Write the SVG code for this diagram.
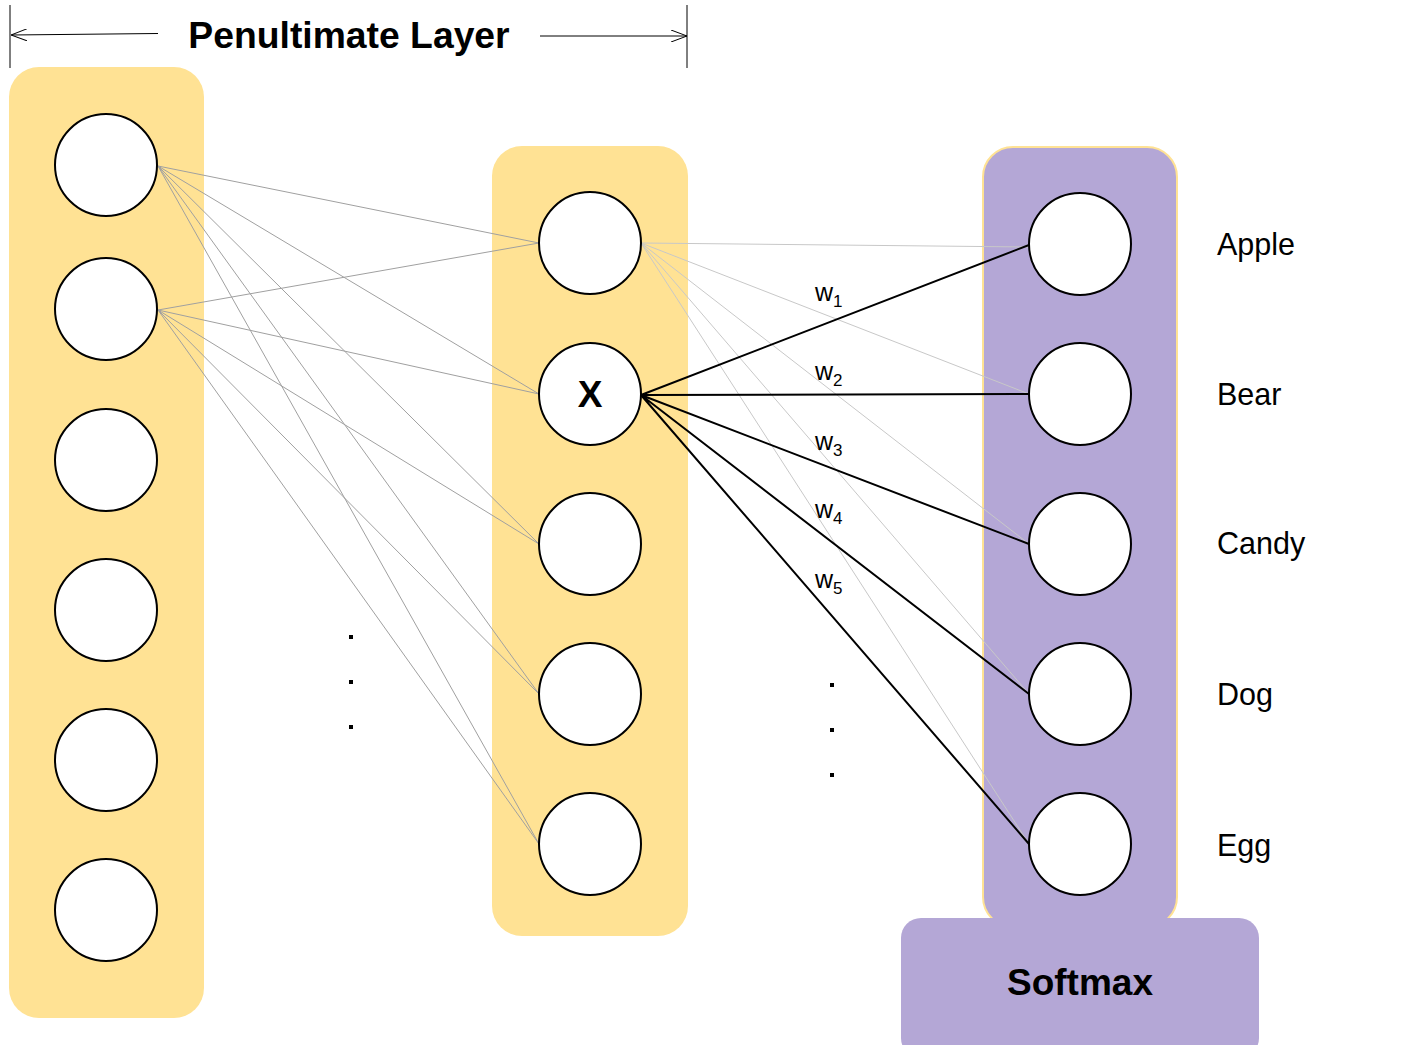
<svg xmlns="http://www.w3.org/2000/svg" width="1407" height="1045" viewBox="0 0 1407 1045">
<defs>
<style>
.col{fill:#FFE294;}
.pcol{fill:#B4A7D6;stroke:#FFE294;stroke-width:2;}
.node{fill:#FFFFFF;stroke:#000000;stroke-width:2;}
.g1{stroke:#A0A0A0;stroke-width:1;fill:none;}
.g2{stroke:#C8C8C8;stroke-width:1;fill:none;}
.bk{stroke:#000000;stroke-width:2;fill:none;}
.t{font-family:"Liberation Sans",Arial,sans-serif;fill:#000;}
.b{font-weight:bold;}
.lbl{font-size:30.5px;}
.w{font-size:25px;}
.sub{font-size:17px;}
.dot{fill:#000;}
</style>
<marker id="open" viewBox="0 0 16 12" refX="16" refY="6" markerWidth="16" markerHeight="12" orient="auto" markerUnits="userSpaceOnUse">
<path d="M0,0 L16,6 L0,12" fill="none" stroke="#000" stroke-width="1"/>
</marker>
</defs>
<rect width="1407" height="1045" fill="#FFFFFF"/>

<g id="title">
<line x1="10" y1="5" x2="10" y2="68" stroke="#000" stroke-width="1"/>
<line x1="687" y1="5" x2="687" y2="68" stroke="#000" stroke-width="1"/>
<line x1="158" y1="33.5" x2="11" y2="35" stroke="#000" stroke-width="1" marker-end="url(#open)"/>
<line x1="540" y1="36" x2="687" y2="36" stroke="#000" stroke-width="1" marker-end="url(#open)"/>
<text class="t b" x="349" y="48" font-size="37.3" text-anchor="middle">Penultimate Layer</text>
</g>

<g id="layer-penultimate"><rect class="col" x="9" y="67" width="195" height="951" rx="30"/></g>
<g id="layer-middle"><rect class="col" x="492" y="146" width="196" height="790" rx="30"/></g>
<g id="layer-output"><rect class="pcol" x="983" y="147" width="194" height="780" rx="30"/></g>

<g id="connectors">
<path class="g1" d="M158,166 L539,243 M158,166 L539,394 M158,166 L539,544 M158,166 L539,694 M158,166 L539,844"/>
<path class="g1" d="M158,310 L539,243 M158,310 L539,394 M158,310 L539,544 M158,310 L539,694 M158,310 L539,844"/>
<path class="g2" d="M641,243 L1029,247 M641,243 L1029,394 M641,243 L1029,544 M641,243 L1029,694 M641,243 L1029,844"/>
<path class="bk" d="M641,395 L1029,245 M641,395 L1029,394 M641,395 L1029,544 M641,395 L1029,694 M641,395 L1029,844"/>
</g>

<g id="left-nodes">
<circle id="l1" class="node" cx="106" cy="165" r="51"/>
<circle id="l2" class="node" cx="106" cy="309" r="51"/>
<circle id="l3" class="node" cx="106" cy="460" r="51"/>
<circle id="l4" class="node" cx="106" cy="610" r="51"/>
<circle id="l5" class="node" cx="106" cy="760" r="51"/>
<circle id="l6" class="node" cx="106" cy="910" r="51"/>
</g>

<g id="middle-nodes">
<circle id="m1" class="node" cx="590" cy="243" r="51"/>
<g id="m2"><circle class="node" cx="590" cy="394" r="51"/><text class="t b" x="590" y="407" font-size="37" text-anchor="middle">X</text></g>
<circle id="m3" class="node" cx="590" cy="544" r="51"/>
<circle id="m4" class="node" cx="590" cy="694" r="51"/>
<circle id="m5" class="node" cx="590" cy="844" r="51"/>
</g>

<g id="output-nodes">
<circle id="o1" class="node" cx="1080" cy="244" r="51"/>
<circle id="o2" class="node" cx="1080" cy="394" r="51"/>
<circle id="o3" class="node" cx="1080" cy="544" r="51"/>
<circle id="o4" class="node" cx="1080" cy="694" r="51"/>
<circle id="o5" class="node" cx="1080" cy="844" r="51"/>
</g>

<g id="softmax">
<rect x="901" y="918" width="358" height="140" rx="20" fill="#B4A7D6"/>
<text class="t b" x="1080" y="995" font-size="37" text-anchor="middle">Softmax</text>
</g>

<g id="class-labels">
<text class="t lbl" x="1217" y="255">Apple</text>
<text class="t lbl" x="1217" y="405">Bear</text>
<text class="t lbl" x="1217" y="554">Candy</text>
<text class="t lbl" x="1217" y="705">Dog</text>
<text class="t lbl" x="1217" y="856">Egg</text>
</g>

<g id="weights">
<text class="t w" x="815" y="301">w<tspan class="sub" dy="6">1</tspan></text>
<text class="t w" x="815" y="380">w<tspan class="sub" dy="6">2</tspan></text>
<text class="t w" x="815" y="450">w<tspan class="sub" dy="6">3</tspan></text>
<text class="t w" x="815" y="518">w<tspan class="sub" dy="6">4</tspan></text>
<text class="t w" x="815" y="588">w<tspan class="sub" dy="6">5</tspan></text>
</g>

<g id="ellipsis">
<rect class="dot" x="349" y="635" width="4" height="4"/>
<rect class="dot" x="349" y="680" width="4" height="4"/>
<rect class="dot" x="349" y="725" width="4" height="4"/>
<rect class="dot" x="830" y="683" width="4" height="4"/>
<rect class="dot" x="830" y="728" width="4" height="4"/>
<rect class="dot" x="830" y="773" width="4" height="4"/>
</g>
</svg>
